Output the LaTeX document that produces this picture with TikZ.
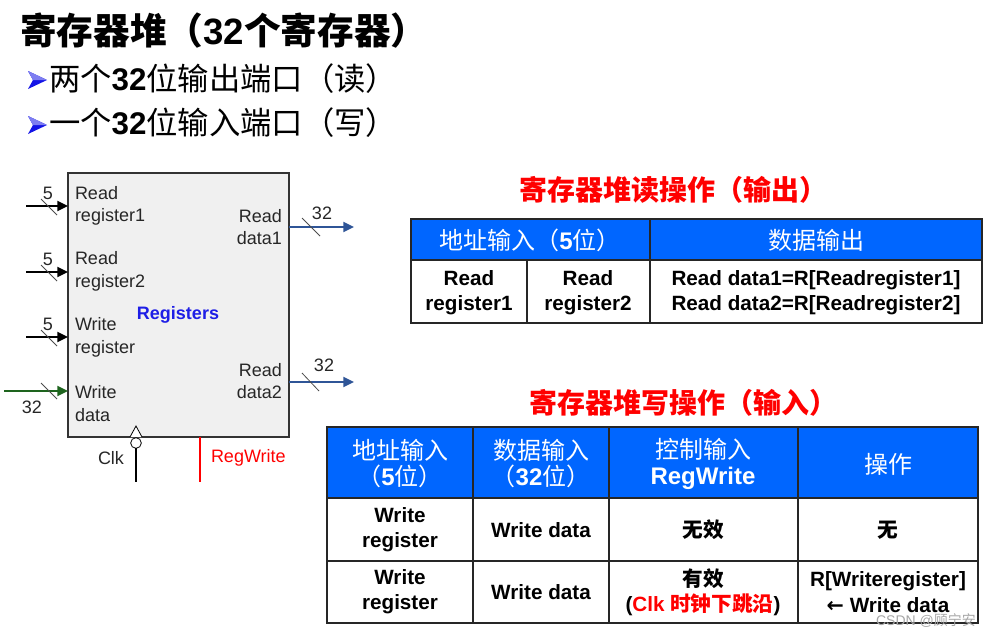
\documentclass[tikz,border=0pt]{standalone}
\usepackage{fontspec}
\setmainfont{Liberation Sans}
\newfontfamily\cjk{Noto Sans CJK SC}
\newfontfamily\symb{DejaVu Sans}
\usetikzlibrary{arrows.meta,calc}
\usetikzlibrary{positioning}
\definecolor{headblue}{RGB}{0,102,255}
\definecolor{busblue}{RGB}{47,85,151}
\definecolor{busgreen}{RGB}{30,100,30}
\definecolor{namered}{RGB}{255,0,0}
\definecolor{regname}{RGB}{30,30,230}
\definecolor{regfill}{RGB}{240,240,240}
\definecolor{bulletblue}{RGB}{20,20,230}
\newcommand{\zh}[1]{{\cjk #1}}

\begin{document}
\begin{tikzpicture}[x=0.75pt,y=-0.75pt,
  every node/.style={inner sep=0pt,outer sep=0pt},
  pin label/.style={font=\fontsize{13.5}{16.9}\selectfont,text=black!85},
  bus/.style={line width=1.5pt,-{Triangle[length=8pt,width=7.5pt]}},
  tick/.style={line width=0.6pt,black!70},
  width tag/.style={font=\fontsize{13.5}{16}\selectfont,text=black!85},
  head/.style={font=\fontsize{18}{19.5}\selectfont\cjk,text=white,align=center},
  cell/.style={font=\fontsize{15.5}{19}\selectfont\bfseries,align=center},
  grid/.style={line width=1.2pt,black!85},
  optitle/.style={font=\fontsize{21}{24}\selectfont\cjk\bfseries,text=namered,anchor=west},
  ]
  \useasboundingbox (0,0) rectangle (992,636);

  % title and bullets
  \node[anchor=west,font=\fontsize{27.5}{31}\selectfont\bfseries] (title) at (20,31)
    {\zh{寄存器堆（}32\zh{个寄存器）}};
  \foreach \y in {80,125} {
    \fill[bulletblue] (28,\y-9) -- (47,\y) -- (28,\y+9) -- (33,\y) -- cycle;
    \fill[bulletblue!55] (28,\y-9) -- (47,\y) -- (33,\y) -- cycle;
  }
  \node[anchor=west,font=\fontsize{23.5}{27}\selectfont] (read) at (49,79)
    {\zh{两个}{\bfseries 32}\zh{位输出端口（读）}};
  \node[anchor=west,font=\fontsize{23.5}{27}\selectfont] (write) at (49,123)
    {\zh{一个}{\bfseries 32}\zh{位输入端口（写）}};

  % register file
  \node[draw=black!80,fill=regfill,line width=0.8pt,
    minimum width=165.75pt,minimum height=198pt] (regs) at (178.5,305) {};
  \node[pin label,anchor=west,align=left] (rr1) at (75,206) {Read\\register1};
  \node[pin label,anchor=west,align=left] (rr2) at (75,271.5) {Read\\register2};
  \node[pin label,anchor=west,align=left] (wr) at (75,337.5) {Write\\register};
  \node[pin label,anchor=west,align=left] (wd) at (75,403.5) {Write\\data};
  \node[pin label,anchor=east,align=right] (rd1) at (282,227) {Read\\data1};
  \node[pin label,anchor=east,align=right] (rd2) at (282,381) {Read\\data2};
  \node[font=\fontsize{13.5}{16}\selectfont\bfseries,text=regname] (rname) at (178,315) {Registers};

  % inputs
  \foreach \y/\n in {206/1,272/2,337/3} {
    \coordinate (in\n) at (26,\y);
    \draw[bus] (in\n) -- (in\n -| regs.west);
    \draw[tick] ($(in\n)+(15,-7)$) -- ($(in\n)+(31,9)$);
    \node[width tag] (w\n) at (48,\y-13) {5};
  }
  \coordinate (in4) at (4,391);
  \draw[bus,busgreen] (in4) -- (in4 -| regs.west);
  \draw[tick] ($(in4)+(37,-8)$) -- ($(in4)+(53,8)$);
  \node[width tag] (w4) at (32,407) {32};

  % outputs
  \coordinate (out1) at (354,227);
  \coordinate (out2) at (354,382);
  \draw[bus,busblue] (regs.east |- out1) -- (out1);
  \draw[bus,busblue] (regs.east |- out2) -- (out2);
  \draw[tick] (302,218) -- (320,236);
  \draw[tick] (302,373) -- (319,391);
  \node[width tag] (w5) at (322,213) {32};
  \node[width tag] (w6) at (324,365) {32};

  % clock and write enable
  \coordinate (clk) at (136,437);
  \draw[fill=white,line width=0.6pt] ($(clk)+(-6,0)$) -- ($(clk)+(0,-11)$) -- ($(clk)+(6,0)$);
  \node[circle,draw,line width=0.6pt,fill=white,minimum size=8pt] (bub) at (136,443) {};
  \coordinate (clkend) at (136,482);
  \draw[line width=0.8pt] (bub.south) -- (clkend);
  \node[pin label,anchor=east] (clklab) at (124,458) {Clk};
  \coordinate (rw) at (200,437);
  \coordinate (rwend) at (200,482);
  \draw[namered,line width=0.8pt] (rw) -- (rwend);
  \node[pin label,anchor=west,text=namered] (rwlab) at (211,458) {RegWrite};

  % read table
  \node[optitle] (rdtitle) at (519,190) {寄存器堆读操作（输出）};
  \fill[headblue] (411,219) rectangle (982,260);
  \draw[grid] (411,219) rectangle (982,323);
  \draw[grid] (411,260) -- (982,260);
  \draw[grid] (650,219) -- (650,323);
  \draw[grid] (527,260) -- (527,323);
  \node[head] (rh1) at (530,240) {地址输入（{\rmfamily\bfseries 5}位）};
  \node[head] (rh2) at (816,240) {数据输出};
  \node[cell] (rc1) at (469,293) {Read\\register1};
  \node[cell] (rc2) at (588,293) {Read\\register2};
  \node[cell] (rc3) at (816,293) {Read data1=R[Readregister1]\\Read data2=R[Readregister2]};

  % write table
  \node[optitle] (wrtitle) at (529,403) {寄存器堆写操作（输入）};
  \fill[headblue] (327,427) rectangle (978,498);
  \draw[grid] (327,427) rectangle (978,623);
  \draw[grid] (327,498) -- (978,498);
  \draw[grid] (327,561) -- (978,561);
  \foreach \x in {473,609,798}
    \draw[grid] (\x,427) -- (\x,623);
  \node[head] (wh1) at (400,464) {地址输入\\（{\rmfamily\bfseries 5}位）};
  \node[head] (wh2) at (541,464) {数据输入\\（{\rmfamily\bfseries 32}位）};
  \node[head] (wh3) at (703,464) {控制输入\\{\rmfamily\bfseries RegWrite}};
  \node[head] (wh4) at (888,464) {操作};
  % row 1
  \node[cell] (wa1) at (400,530) {Write\\register};
  \node[cell] (wb1) at (541,530) {Write data};
  \node[cell] (wc1) at (703,530) {\zh{无效}};
  \node[cell] (wd1) at (888,530) {\zh{无}};
  % row 2
  \node[cell] (wa2) at (400,592) {Write\\register};
  \node[cell] (wb2) at (541,592) {Write data};
  \node[cell] (wc2) at (703,592) {\zh{有效}\\(\textcolor{namered}{Clk \zh{时钟下跳沿}})};
  \node[cell] (wd2) at (888,592) {R[Writeregister]\\{\symb ←} Write data};

  \node[font=\fontsize{10.5}{12}\selectfont,text=black!35] (mark) at (926,621) {CSDN @\zh{顾宁安}};
\end{tikzpicture}
\end{document}
